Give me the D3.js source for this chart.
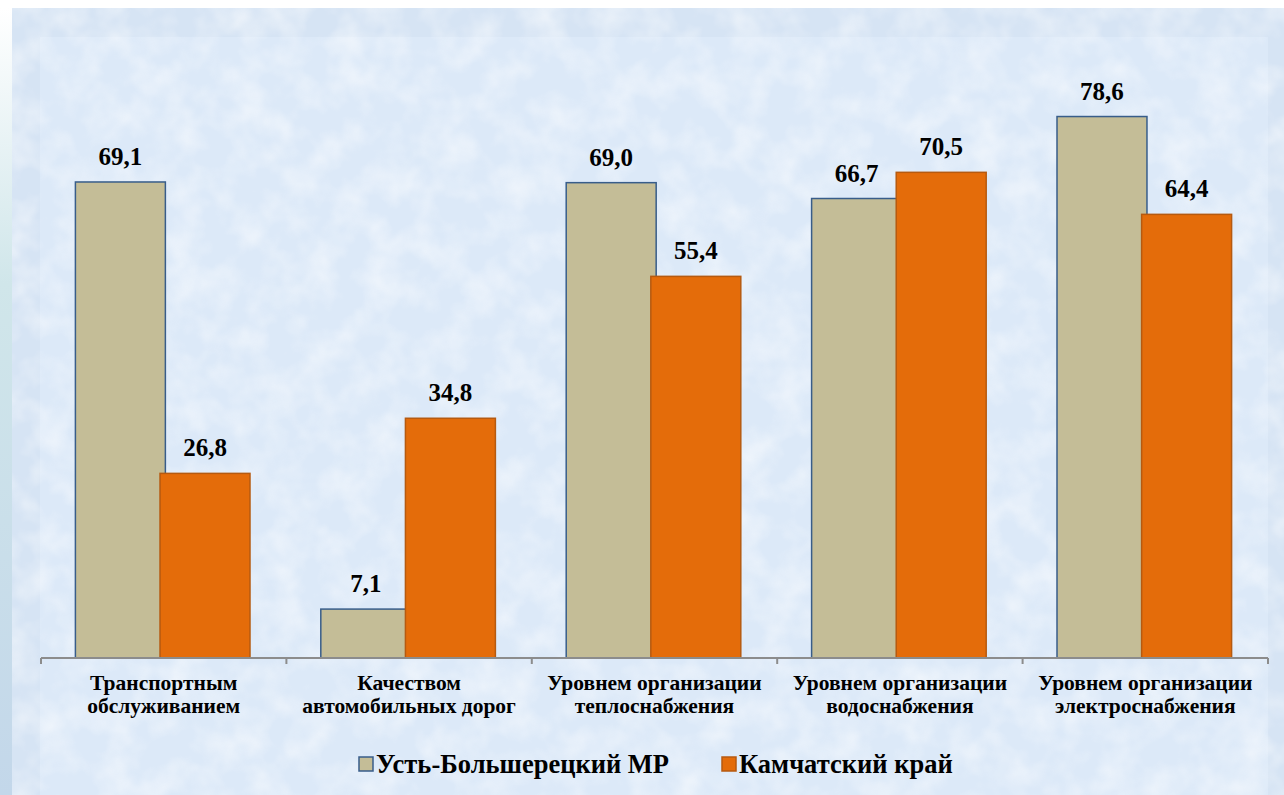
<!DOCTYPE html>
<html><head><meta charset="utf-8">
<script src="https://cdn.jsdelivr.net/npm/d3@7"></script>
<style>html,body{margin:0;padding:0;background:#fff;overflow:hidden}</style>
</head><body><svg id="chart" width="1284" height="795"></svg>
<script>
const categories = [
  ["Транспортным", "обслуживанием"],
  ["Качеством", "автомобильных дорог"],
  ["Уровнем организации", "теплоснабжения"],
  ["Уровнем организации", "водоснабжения"],
  ["Уровнем организации", "электроснабжения"]
];
const seriesNames = ["Усть-Большерецкий МР", "Камчатский край"];
const ustBolsheretsky = [69.1, 7.1, 69.0, 66.7, 78.6];
const kamchatka = [26.8, 34.8, 55.4, 70.5, 64.4];
const valueLabels = [
  ["69,1", "7,1", "69,0", "66,7", "78,6"],
  ["26,8", "34,8", "55,4", "70,5", "64,4"]
];

const FONT = '"Liberation Serif"';
const W = 1284, H = 795;
const svg = d3.select("#chart");
const defs = svg.append("defs");

const f = defs.append("filter").attr("id","tex").attr("x",0).attr("y",0).attr("width","100%").attr("height","100%");
f.append("feTurbulence").attr("type","fractalNoise").attr("baseFrequency","0.03").attr("numOctaves",3).attr("seed",7).attr("result","n");
f.append("feColorMatrix").attr("in","n").attr("type","matrix")
  .attr("values","0 0 0 0 1  0 0 0 0 1  0 0 0 0 1  1.6 0 0 0 -0.6");
const lg = defs.append("linearGradient").attr("id","leftStrip").attr("x1",0).attr("y1",0).attr("x2",0).attr("y2",1);
lg.append("stop").attr("offset","0").attr("stop-color","#ffffff");
lg.append("stop").attr("offset","0.35").attr("stop-color","#d0e6ea");
lg.append("stop").attr("offset","1").attr("stop-color","#c3d7ea");

svg.append("rect").attr("x",0).attr("y",0).attr("width",W).attr("height",H).attr("fill","#ffffff");
svg.append("rect").attr("x",0).attr("y",8).attr("width",12).attr("height",H-8).attr("fill","url(#leftStrip)");
svg.append("rect").attr("x",12).attr("y",8).attr("width",W-12).attr("height",H-8).attr("fill","#d6e4f4");
svg.append("rect").attr("x",40).attr("y",37).attr("width",1228).attr("height",H-37).attr("fill","#dce9f8");
svg.append("rect").attr("x",12).attr("y",8).attr("width",W-12).attr("height",H-8).attr("filter","url(#tex)").attr("opacity",0.6);

const x0 = 41, x1 = 1268, yBase = 658, yTop = 38;
const x = d3.scaleBand().domain(d3.range(categories.length)).range([x0, x1]).paddingInner(0).paddingOuter(0);
const inner = d3.scaleBand().domain([0,1]).range([0, x.bandwidth()]).paddingInner(0).paddingOuter(0.45);
const y = d3.scaleLinear().domain([0, 90]).range([yBase, yTop]);
const barW = inner.step() * 1.075;
const shift = (barW - inner.step()) / 2 + 1;

const series = [ustBolsheretsky, kamchatka];
const fills = ["#c4bd97", "#e46c0a"];
const strokes = ["#385d8a", "#b65a10"];

series.forEach((vals, s) => {
  svg.append("g").selectAll("rect").data(vals).join("rect")
    .attr("x", (d,i) => x(i) + inner(s) - shift + 0.5)
    .attr("y", d => y(d))
    .attr("width", barW - 1)
    .attr("height", d => yBase - y(d))
    .attr("fill", fills[s])
    .attr("stroke", strokes[s])
    .attr("stroke-width", 1.5);
});
series.forEach((vals, s) => {
  svg.append("g").selectAll("text").data(vals).join("text")
    .attr("x", (d,i) => x(i) + inner(s) - shift + barW/2)
    .attr("y", d => y(d) - 17)
    .attr("text-anchor","middle")
    .style("font-family", FONT).style("font-weight","bold").style("font-size", "25px").style("fill","#000")
    .text((d,i) => valueLabels[s][i]);
});

const axis = d3.axisBottom(x).tickSize(0).tickFormat("");
const ag = svg.append("g").attr("transform", `translate(0,${yBase})`).call(axis);
ag.select(".domain").attr("stroke","#8c8c8c").attr("stroke-width",2).attr("d", `M${x0},0H${x1}`);
const boundaries = d3.range(categories.length + 1).map(i => i === categories.length ? x1 : x(i));
ag.selectAll(".bnd").data(boundaries).join("line").attr("class","bnd")
  .attr("x1", d => d).attr("x2", d => d).attr("y1", 0).attr("y2", 6)
  .attr("stroke","#8c8c8c").attr("stroke-width",2);

const cl = svg.append("g");
categories.forEach((lines, i) => {
  const t = cl.append("text").attr("text-anchor","middle")
    .style("font-family", FONT).style("font-weight","bold").style("font-size", "21.5px").style("fill","#000");
  lines.forEach((ln, k) => {
    t.append("tspan").attr("x", x(i) + x.bandwidth()/2).attr("y", 690 + k*22.5).text(ln);
  });
});

const legend = [{name: seriesNames[0], fill: fills[0], stroke: strokes[0], x: 359},
                {name: seriesNames[1], fill: fills[1], stroke: strokes[1], x: 722}];
const lgG = svg.append("g");
legend.forEach(l => {
  lgG.append("rect").attr("x", l.x).attr("y", 757).attr("width", 14).attr("height", 14)
    .attr("fill", l.fill).attr("stroke", l.stroke).attr("stroke-width", 1.5);
  lgG.append("text").attr("x", l.x + 17).attr("y", 773)
    .style("font-family", FONT).style("font-weight","bold").style("font-size", "26.5px").style("fill","#000")
    .text(l.name);
});
</script></body></html>
